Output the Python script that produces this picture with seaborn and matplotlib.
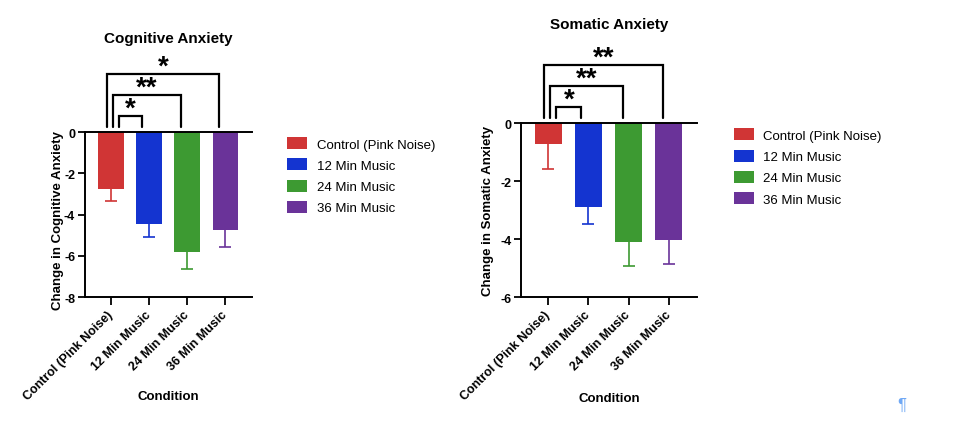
import seaborn as sns
import matplotlib.pyplot as plt
import numpy as np
import pandas as pd
from matplotlib.patches import Patch

sns.set_theme(style='ticks')
plt.rcParams['font.family'] = ['Liberation Sans', 'DejaVu Sans']
plt.rcParams['text.color'] = 'black'
plt.rcParams['axes.labelcolor'] = 'black'

# %% data
conditions = ['Control (Pink Noise)', '12 Min Music', '24 Min Music', '36 Min Music']
cog_mean = [-2.75, -4.45, -5.80, -4.77]
cog_sem = [0.58, 0.62, 0.84, 0.79]
som_mean = [-0.72, -2.91, -4.11, -4.02]
som_sem = [0.87, 0.57, 0.81, 0.84]
# comparisons against control: (other condition index, label)
cog_sig = [(1, '*'), (2, '**'), (3, '*')]
som_sig = [(1, '*'), (2, '**'), (3, '**')]

colors = ['#D03535', '#1434D0', '#3D9A32', '#6A3399']

fig = plt.figure(figsize=(9.6, 4.39), dpi=100)
ax1 = fig.add_axes([0.0885, 0.321, 0.174, 0.376])
ax2 = fig.add_axes([0.5427, 0.321, 0.1833, 0.3965])


def px2data(ax, dx_px, dy_px):
    # convert a pixel offset to data units for this axis
    bb = ax.get_position()
    w_px = bb.width * fig.get_figwidth() * fig.dpi
    h_px = bb.height * fig.get_figheight() * fig.dpi
    x0, x1 = ax.get_xlim(); y0, y1 = ax.get_ylim()
    return dx_px * (x1 - x0) / w_px, dy_px * (y1 - y0) / h_px


def panel(ax, means, sems, sigs, ymin, title0, ylab, ylab_x, ylab_y, xlab_y):
    df = pd.DataFrame({'Condition': conditions, 'Change': means, 'sem': sems})
    sns.barplot(data=df, x='Condition', y='Change', hue='Condition', palette=colors,
                width=0.67, legend=False, ax=ax, saturation=1, edgecolor='none')
    for i in range(len(conditions)):
        eb = ax.errorbar(i, means[i], yerr=[[sems[i]], [0]], fmt='none', ecolor=colors[i],
                         elinewidth=1.2, capsize=4, capthick=1.2)
        # only keep the lower cap (one-sided error bar)
        for cap in eb[1]:
            if abs(cap.get_ydata()[0] - means[i]) < 1e-9:
                cap.set_visible(False)
    ax.set_xlim(-0.68, 3.7)
    ax.set_ylim(ymin, 0)
    ax.set_yticks(np.arange(ymin, 0.1, 2))
    ax.set_yticklabels(['{:g}'.format(v) for v in np.arange(ymin, 0.1, 2)], fontweight='bold', fontsize=9)
    ax.set_xticks(range(len(conditions)))
    ax.set_xticklabels(conditions, rotation=45, ha='right', va='center', rotation_mode='anchor',
                       fontweight='bold', fontsize=9)
    ax.tick_params(axis='x', length=6, width=1.3, pad=5, colors='black')
    ax.tick_params(axis='y', length=5, width=1.3, pad=2, colors='black')
    for s in ['left', 'bottom', 'top']:
        ax.spines[s].set_linewidth(1.4)
        ax.spines[s].set_color('black')
    ax.spines['right'].set_visible(False)
    ax.set_xlabel('Condition', fontweight='bold', fontsize=9.5)
    ax.xaxis.set_label_coords(0.5, xlab_y)
    ax.set_ylabel(ylab, fontweight='bold', fontsize=9.5)
    ax.yaxis.set_label_coords(ylab_x, ylab_y)
    ax.text(0.5, 1.57, title0, transform=ax.transAxes, ha='center', va='center',
            fontweight='bold', fontsize=11)

    # significance brackets
    starts = [8, 2, -4]
    ends = [-7, -6, -6]
    tops = [16.5, 37.5, 58.5]
    _, leg = px2data(ax, 0, 5)
    for k, (j, lab) in enumerate(sigs):
        dxs, top = px2data(ax, starts[k], tops[k])
        dxe, _ = px2data(ax, ends[k], 0)
        xs = 0 + dxs; xe = j + dxe
        ax.plot([xs, xs, xe, xe], [leg, top, top, leg], color='black', lw=1.6,
                clip_on=False, solid_joinstyle='miter')
        ax.text((xs + xe) / 2, top, lab, ha='center', va='baseline',
                fontsize=20, fontweight='bold', clip_on=False)

    handles = [Patch(facecolor=c, edgecolor='none', label=n) for c, n in zip(colors, conditions)]
    ax.legend(handles=handles, loc='upper left', bbox_to_anchor=(1.21, 0.97), frameon=False,
              borderaxespad=0, borderpad=0, handlelength=1.5, handleheight=1.05,
              labelspacing=0.58, handletextpad=0.73, fontsize=9.5)


panel(ax1, cog_mean, cog_sem, cog_sig, -8, 'Cognitive Anxiety', 'Change in Cognitive Anxiety',
      -0.126, 0.47, -0.564)
panel(ax2, som_mean, som_sem, som_sig, -6, 'Somatic Anxiety', 'Change in Somatic Anxiety',
      -0.153, 0.5, -0.546)

fig.text(902 / 960, 1 - 405 / 439, '\u00b6', color='#6FA8F5', fontsize=12, ha='center', va='center')

fig.savefig('out.png', dpi=100)
